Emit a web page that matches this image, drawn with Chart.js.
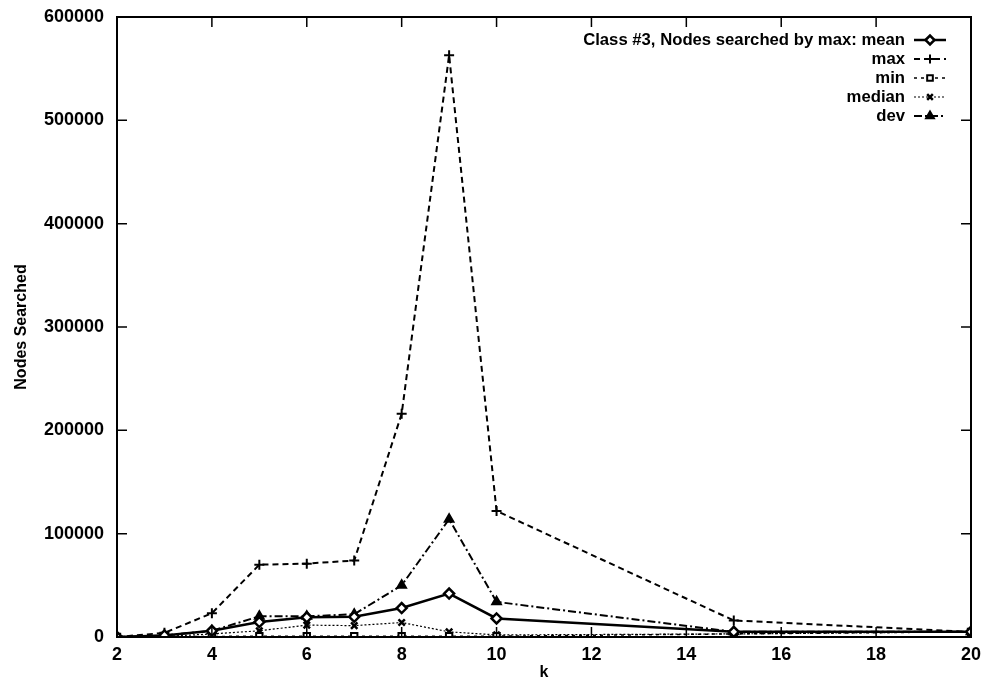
<!DOCTYPE html>
<html>
<head>
<meta charset="utf-8">
<script src="https://cdn.jsdelivr.net/npm/chart.js@4/dist/chart.umd.min.js"></script>
<style>
  html, body { margin: 0; padding: 0; background: #fff; }
  #wrap { width: 982px; height: 683px; }
</style>
</head>
<body>
<div id="wrap"><canvas id="chart" width="982" height="683"></canvas></div>
<script>
    'use strict'

    // k values and node counts per statistic
    var kValues = [2, 3, 4, 5, 6, 7, 8, 9, 10, 15, 20];
    var meanNodes = [0, 1500, 6000, 14500, 19000, 19500, 28000, 42000, 18000, 5000, 5000];
    var maxNodes = [0, 4000, 23000, 70000, 71000, 74000, 216000, 563000, 122000, 16000, 5000];
    var minNodes = [0, 200, 500, 800, 800, 800, 800, 800, 800, 3000, 5000];
    var medianNodes = [0, 500, 3000, 6000, 11500, 11000, 14000, 5000, 2000, 3000, 5000];
    var devNodes = [0, 1500, 6000, 20000, 20000, 22000, 50000, 114000, 34000, 5000, 5000];

    var seriesNames = ['Class #3, Nodes searched by max: mean', 'max', 'min', 'median', 'dev'];
    var xTicks = [2, 4, 6, 8, 10, 12, 14, 16, 18, 20];
    var yTicks = [0, 100000, 200000, 300000, 400000, 500000, 600000];

    var FONT = '"Liberation Sans", Arial, sans-serif';

    function points(values) {
        return kValues.map(function (k, i) { return {x: k, y: values[i]}; });
    }

    function series(label, values, style) {
        var ds = {
            label: label,
            data: points(values),
            borderColor: '#000',
            backgroundColor: '#000',
            pointBorderColor: '#000',
            pointBackgroundColor: '#fff',
            pointBorderWidth: 2,
            pointRadius: 4.5,
            tension: 0,
            fill: false
        };
        return Object.assign(ds, style);
    }

    var datasets = [
        series(seriesNames[0], meanNodes, {borderWidth: 2.5, borderDash: [], pointStyle: 'rectRot', pointRadius: 5, pointBorderWidth: 2.5}),
        series(seriesNames[1], maxNodes, {borderWidth: 2, borderDash: [6, 4], pointStyle: 'cross', pointRadius: 5}),
        series(seriesNames[2], minNodes, {borderWidth: 1.5, borderDash: [3, 4], pointStyle: 'rect', pointRadius: 4.5}),
        series(seriesNames[3], medianNodes, {borderWidth: 1.2, borderDash: [2, 2], pointStyle: 'crossRot', pointRadius: 4.5, pointBorderWidth: 2.5}),
        series(seriesNames[4], devNodes, {borderWidth: 2, borderDash: [8, 3, 2, 3], pointStyle: 'triangle', pointRadius: 5, pointBackgroundColor: '#000'})
    ];

    // frame with gnuplot style inner ticks on all four sides
    var framePlugin = {
        id: 'frame',
        afterDraw: function (chart) {
            var ctx = chart.ctx;
            var a = chart.chartArea;
            var xs = chart.scales.x, ys = chart.scales.y;
            var len = 10;
            ctx.save();
            ctx.strokeStyle = '#000';
            ctx.lineWidth = 2;
            ctx.strokeRect(a.left, a.top, a.right - a.left, a.bottom - a.top);
            ctx.lineWidth = 1.5;
            ctx.beginPath();
            xTicks.forEach(function (t) {
                var px = xs.getPixelForValue(t);
                ctx.moveTo(px, a.bottom); ctx.lineTo(px, a.bottom - len);
                ctx.moveTo(px, a.top); ctx.lineTo(px, a.top + len);
            });
            yTicks.forEach(function (t) {
                var py = ys.getPixelForValue(t);
                ctx.moveTo(a.left, py); ctx.lineTo(a.left + len, py);
                ctx.moveTo(a.right, py); ctx.lineTo(a.right - len, py);
            });
            ctx.stroke();
            ctx.restore();
        }
    };

    // key in the top right: text right aligned, sample line on its right
    var keyPlugin = {
        id: 'key',
        afterDraw: function (chart) {
            var ctx = chart.ctx;
            var textRight = 905, lineLeft = 914, lineRight = 946;
            ctx.save();
            ctx.font = 'bold 16.7px ' + FONT;
            ctx.textAlign = 'right';
            ctx.textBaseline = 'middle';
            chart.data.datasets.forEach(function (ds, i) {
                var y = 40 + i * 19;
                ctx.fillStyle = '#000';
                ctx.fillText(ds.label, textRight, y);
                ctx.strokeStyle = '#000';
                ctx.lineWidth = ds.borderWidth;
                ctx.setLineDash(ds.borderDash);
                ctx.beginPath();
                ctx.moveTo(lineLeft, y);
                ctx.lineTo(lineRight, y);
                ctx.stroke();
                ctx.setLineDash([]);
                ctx.fillStyle = ds.pointBackgroundColor;
                ctx.strokeStyle = '#000';
                ctx.lineWidth = ds.pointBorderWidth;
                Chart.helpers.drawPoint(ctx, {
                    pointStyle: ds.pointStyle,
                    radius: ds.pointRadius - 0.5,
                    rotation: 0,
                    borderWidth: ds.pointBorderWidth
                }, (lineLeft + lineRight) / 2, y);
            });
            ctx.restore();
        }
    };

    new Chart(document.getElementById('chart'), {
        type: 'line',
        data: {datasets: datasets},
        options: {
            responsive: false,
            animation: false,
            layout: {padding: {top: 17, right: 11, left: 0, bottom: 0}},
            plugins: {
                legend: {display: false},
                tooltip: {enabled: false}
            },
            scales: {
                x: {
                    type: 'linear',
                    min: 2,
                    max: 20,
                    grid: {display: false, drawTicks: false},
                    border: {display: false},
                    ticks: {
                        stepSize: 2,
                        padding: 7,
                        color: '#000',
                        font: {family: FONT, size: 18, weight: 'bold'},
                        maxRotation: 0,
                        callback: function (value) { return String(value); }
                    },
                    title: {
                        display: true,
                        text: 'k',
                        color: '#000',
                        font: {family: FONT, size: 16, weight: 'bold'},
                        padding: {top: 0, bottom: 1}
                    },
                    afterFit: function (scale) {
                        scale.height = 46;
                        scale.paddingLeft = 0;
                        scale.paddingRight = 0;
                    }
                },
                y: {
                    min: 0,
                    max: 600000,
                    grid: {display: false, drawTicks: false},
                    border: {display: false},
                    ticks: {
                        stepSize: 100000,
                        padding: 13,
                        color: '#000',
                        font: {family: FONT, size: 18, weight: 'bold'},
                        callback: function (value) { return String(value); }
                    },
                    title: {
                        display: true,
                        text: 'Nodes Searched',
                        color: '#000',
                        font: {family: FONT, size: 16, weight: 'bold'},
                        padding: {top: 12, bottom: 0}
                    },
                    afterFit: function (scale) {
                        scale.width = 117;
                        scale.paddingTop = 0;
                        scale.paddingBottom = 0;
                    }
                }
            }
        },
        plugins: [framePlugin, keyPlugin]
    });
</script>
</body>
</html>
